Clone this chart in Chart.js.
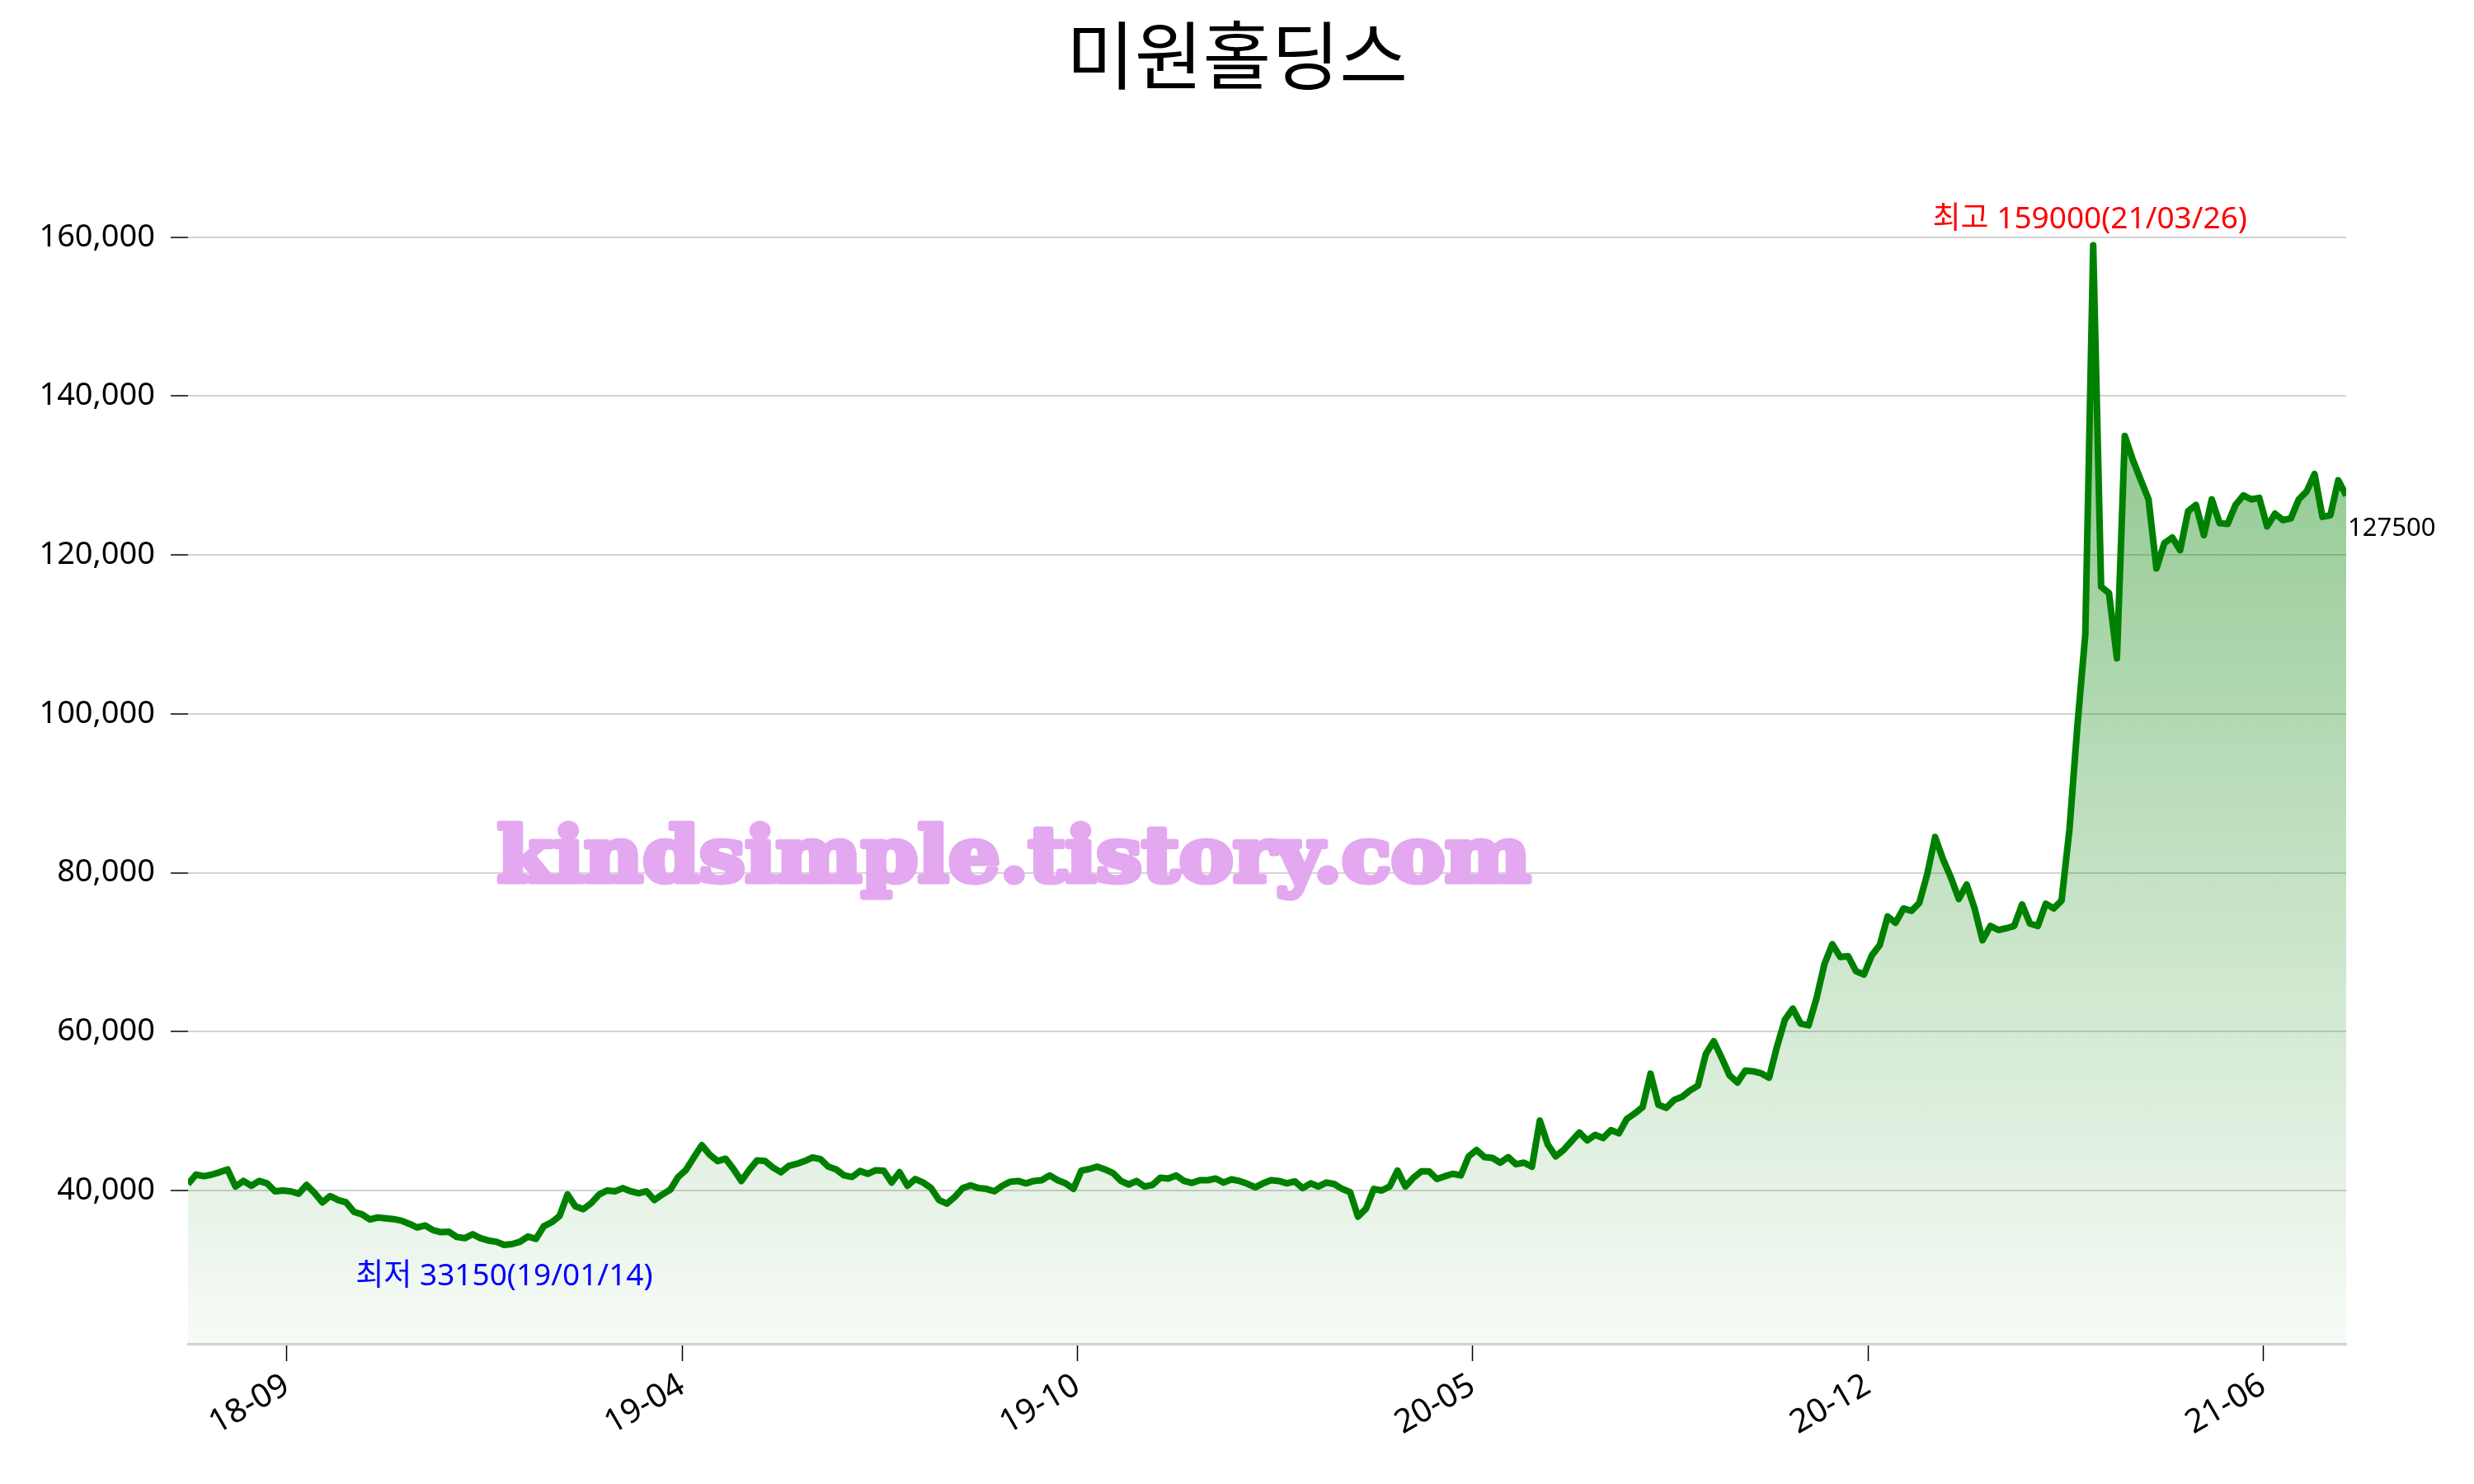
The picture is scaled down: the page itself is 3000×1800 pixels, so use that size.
<!DOCTYPE html>
<html lang="ko">
<head>
  <meta charset="UTF-8">
  <title>미원홀딩스</title>
  <script src="https://cdn.jsdelivr.net/npm/chart.js"></script>
  <style>
    html, body { margin: 0; padding: 0; background: #fff; }
  </style>
</head>
<body>
  <canvas id="chart" width="3000" height="1800"></canvas>

  <script>
    const chartTitle = '미원홀딩스';
    // one close every 4 calendar days, day 0 = 2018-08-07
    const stepDays = 4;
    const closes = [
      40800, 42000, 41800, 42000, 42300, 42650, 40500, 41200, 40600, 41200,
      40900, 39900, 40000, 39900, 39600, 40700, 39700, 38500, 39300, 38800,
      38500, 37300, 37000, 36350, 36600, 36500, 36400, 36200, 35800, 35350,
      35600, 35000, 34750, 34800, 34150, 34000, 34500, 34000, 33700, 33550,
      33150, 33250, 33550, 34200, 33900, 35500, 36000, 36800, 39500, 38000,
      37650, 38400, 39500, 40000, 39900, 40300, 39900, 39650, 39900, 38800,
      39500, 40100, 41700, 42600, 44200, 45700, 44500, 43700, 44000, 42700,
      41200, 42600, 43800, 43700, 42900, 42300, 43100, 43350, 43700, 44150,
      43950, 43000, 42650, 41900, 41700, 42450, 42100, 42550, 42500, 41000,
      42300, 40600, 41450, 41000, 40300, 38800, 38350, 39200, 40300, 40650,
      40300, 40200, 39900, 40600, 41100, 41200, 40900, 41200, 41300, 41900,
      41300, 40900, 40200, 42500, 42700, 43000, 42650, 42200, 41200, 40750,
      41200, 40500, 40700, 41600, 41500, 41900, 41200, 40950, 41300, 41300,
      41500, 41000, 41400, 41200, 40850, 40400, 40900, 41300, 41200, 40900,
      41150, 40300, 40900, 40500, 41000, 40800, 40200, 39800, 36700, 37700,
      40200, 40000, 40500, 42500, 40500, 41600, 42400, 42400, 41450, 41800,
      42100, 41900, 44300, 45100, 44200, 44100, 43500, 44200, 43300, 43500,
      43000, 48800, 45800, 44300, 45100, 46200, 47300, 46300, 47000, 46600,
      47600, 47200, 49000, 49700, 50500, 54700, 50800, 50400, 51400, 51800,
      52600, 53200, 57200, 58800, 56700, 54500, 53600, 55100, 55000, 54750,
      54200, 58100, 61500, 62900, 61000, 60800, 64200, 68500, 71000, 69400,
      69500, 67600, 67200, 69600, 70900, 74500, 73700, 75500, 75200, 76200,
      79800, 84500, 81700, 79400, 76700, 78500, 75500, 71500, 73300, 72800,
      73000, 73300, 76000, 73600, 73300, 76100, 75500, 76500, 85500, 98500,
      110000, 159000, 116000, 115200, 107000, 135000, 132000, 129500, 127000, 118300,
      121500, 122200, 120600, 125500, 126300, 122500, 127000, 124000, 123900, 126300,
      127500, 127000, 127200, 123600, 125200, 124400, 124600, 127000, 128000, 130200,
      124800, 125000, 129400, 127500
    ];
    const xTickDays = [50, 250, 450, 650, 850, 1050];
    const xTickLabels = ['18-09', '19-04', '19-10', '20-05', '20-12', '21-06'];
    const yTicks = [40000, 60000, 80000, 100000, 120000, 140000, 160000];
    const highDate = '21/03/26';
    const lowDate = '19/01/14';
    const watermark = 'kindsimple.tistory.com';

    const maxVal = Math.max(...closes);
    const minVal = Math.min(...closes);
    const maxIdx = closes.indexOf(maxVal);
    const minIdx = closes.indexOf(minVal);
    const lastVal = closes[closes.length - 1];

    const points = closes.map((v, i) => ({ x: i * stepDays, y: v }));
    const fontFam = "'Noto Sans', 'Noto Sans CJK KR', sans-serif";

    const annotations = {
      id: 'annotations',
      afterDraw(chart) {
        const { ctx, scales, chartArea } = chart;
        const x = scales.x, y = scales.y;
        ctx.save();

        // title, centred on the whole canvas
        ctx.fillStyle = '#000';
        ctx.font = "90px 'Noto Sans CJK KR', sans-serif";
        ctx.textAlign = 'center';
        ctx.textBaseline = 'middle';
        ctx.fillText(chartTitle, chart.width / 2, 67);

        ctx.font = '37px ' + fontFam;
        ctx.fillStyle = '#ff0000';
        ctx.textBaseline = 'bottom';
        ctx.fillText('최고 ' + maxVal + '(' + highDate + ')',
          x.getPixelForValue(maxIdx * stepDays) - 4, y.getPixelForValue(maxVal) - 12);

        ctx.fillStyle = '#0000ff';
        ctx.textBaseline = 'top';
        ctx.fillText('최저 ' + minVal + '(' + lowDate + ')',
          x.getPixelForValue(minIdx * stepDays), y.getPixelForValue(minVal) + 20);

        ctx.fillStyle = '#000';
        ctx.font = '31px ' + fontFam;
        ctx.textAlign = 'left';
        ctx.textBaseline = 'middle';
        ctx.fillText(String(lastVal), chartArea.right + 2, y.getPixelForValue(lastVal) + 40);

        // watermark (stroked too, to get a heavy face)
        ctx.font = 'bold 92px "DejaVu Serif"';
        const w = ctx.measureText(watermark).width;
        ctx.fillStyle = 'rgb(227,168,240)';
        ctx.strokeStyle = 'rgb(227,168,240)';
        ctx.lineWidth = 7;
        ctx.lineJoin = 'round';
        ctx.textAlign = 'left';
        ctx.textBaseline = 'alphabetic';
        ctx.translate(603, 1069);
        ctx.scale(1253 / w, 1);
        ctx.strokeText(watermark, 0, 0);
        ctx.fillText(watermark, 0, 0);
        ctx.restore();
      }
    };

    Chart.defaults.font.family = fontFam;
    Chart.defaults.color = '#000';

    new Chart(document.getElementById('chart').getContext('2d'), {
      type: 'line',
      data: {
        datasets: [{
          data: points,
          borderColor: '#008000',
          borderWidth: 8,
          borderJoinStyle: 'round',
          pointRadius: 0,
          tension: 0,
          fill: 'start',
          backgroundColor: (c) => {
            const { chart } = c;
            if (!chart.chartArea) return 'rgba(0,128,0,0.2)';
            const top = chart.scales.y.getPixelForValue(maxVal);
            const g = chart.ctx.createLinearGradient(0, top, 0, chart.chartArea.bottom);
            g.addColorStop(0, 'rgba(0,128,0,0.5)');
            g.addColorStop(1, 'rgba(0,128,0,0.03)');
            return g;
          }
        }]
      },
      options: {
        responsive: false,
        animation: false,
        devicePixelRatio: 1,
        layout: { padding: { top: 239.6, left: 0, right: 155, bottom: 0 } },
        plugins: {
          legend: { display: false },
          tooltip: { enabled: false },
          title: { display: false }
        },
        scales: {
          x: {
            type: 'linear',
            min: 0,
            max: (closes.length - 1) * stepDays,
            afterBuildTicks: (s) => { s.ticks = xTickDays.map(v => ({ value: v })); },
            afterFit: (s) => { s.height = 170; },
            ticks: {
              autoSkip: false,
              minRotation: 30,
              maxRotation: 30,
              padding: 6,
              font: { size: 40 },
              callback: (v) => xTickLabels[xTickDays.indexOf(v)]
            },
            grid: { drawOnChartArea: false, tickColor: '#000', tickLength: 21, tickWidth: 1.5 },
            border: { color: '#d3d3d3', width: 3 }
          },
          y: {
            min: 20695,
            max: 165000,
            afterBuildTicks: (s) => { s.ticks = yTicks.map(v => ({ value: v })); },
            afterFit: (s) => { s.width = 228; },
            ticks: {
              padding: 19,
              font: { size: 38 },
              callback: (v) => v.toLocaleString('en-US')
            },
            grid: { color: '#d3d3d3', lineWidth: 2, tickColor: '#000', tickLength: 21, tickWidth: 1.5 },
            border: { display: false }
          }
        }
      },
      plugins: [annotations]
    });
  </script>
</body>
</html>
